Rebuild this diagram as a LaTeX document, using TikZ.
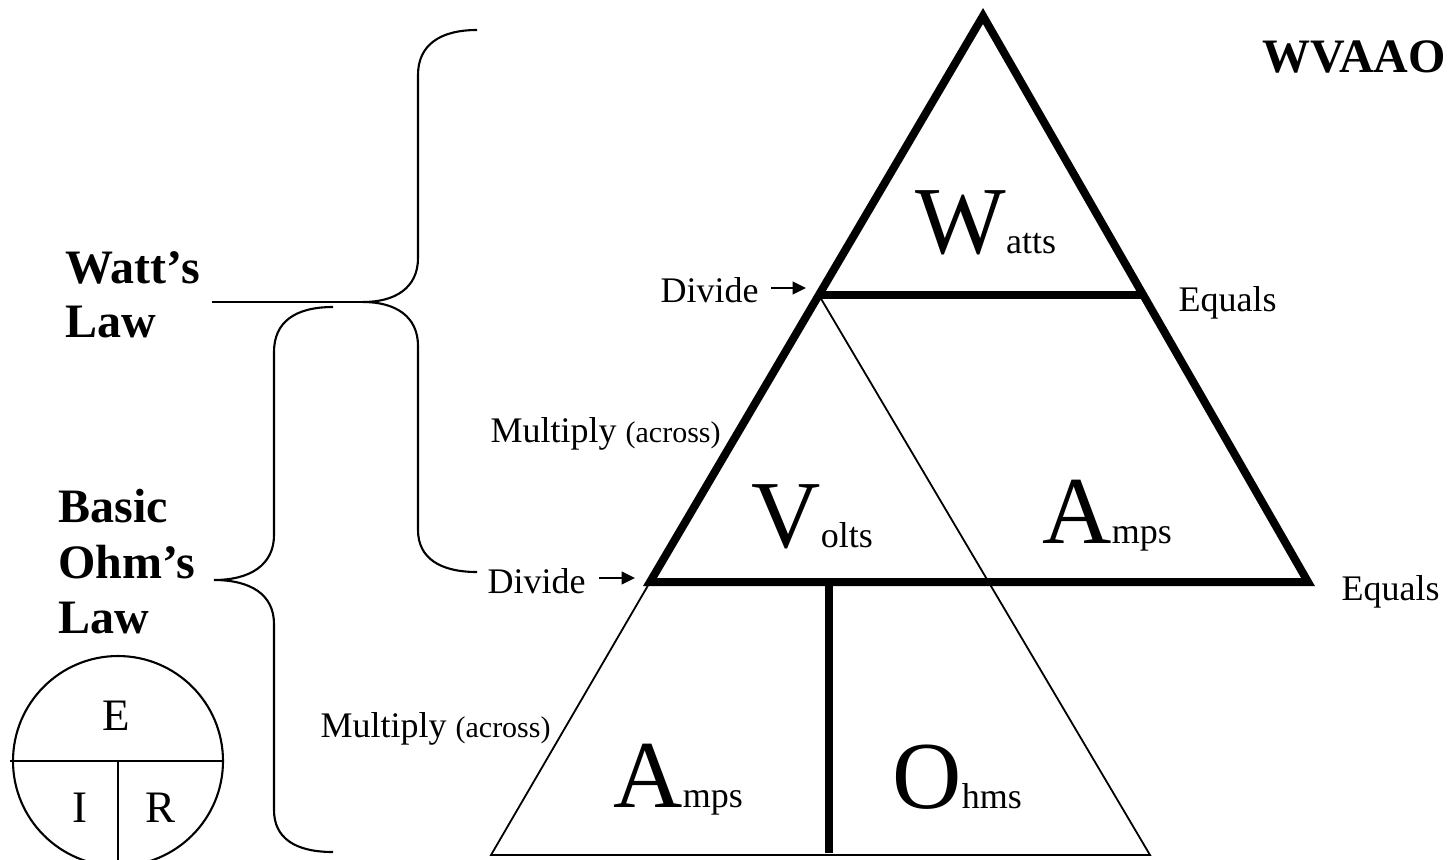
\documentclass[tikz,border=0pt]{standalone}
\usepackage{fontspec}
\setmainfont{Liberation Serif}
\usetikzlibrary{arrows.meta,calc}
\newcommand\BigLtr[2]{{\fontsize{32}{36}\selectfont #1}{\fontsize{12}{14}\selectfont #2}}
\tikzset{
  thick line/.style={line width=2.67pt, line join=miter, miter limit=20},
  thin line/.style={line width=0.6pt},
  brace line/.style={line width=0.7pt},
  lbl/.style={anchor=base west, inner sep=0pt, font=\fontsize{12}{14}\selectfont},
  title/.style={anchor=base west, inner sep=0pt, font=\fontsize{16}{18}\selectfont\bfseries},
  bigtxt/.style={anchor=base west, inner sep=0pt},
  arr/.style={line width=0.9pt, -{Triangle[length=4.5pt,width=4.2pt]}},
  eir/.style={anchor=base, inner sep=0pt, font=\fontsize{15}{17}\selectfont}
}
\begin{document}
\begin{tikzpicture}[x=0.33333pt, y=-0.33333pt]
\useasboundingbox (0,0) rectangle (1452,859);
% main thick triangle
\coordinate (T) at (983,16);
\coordinate (BL) at (650,582);
\coordinate (BR) at (1308,582);
\coordinate (M1) at ($(T)!0.493!(BL)$);
\coordinate (M2) at ($(T)!0.493!(BR)$);
\coordinate (L0) at (491,855);
\coordinate (R0) at (1150,855);
\coordinate (V1) at (829,582);
\coordinate (V2) at (829,853);
% thin triangle
\draw[thin line] (M1) -- (R0) -- (L0) -- (BL);
\draw[thick line] (T) -- (BL) -- (BR) -- cycle;
\draw[thick line] (M1) -- (M2);
\draw[thick line] (V1) -- (V2);
% big labels
\node[bigtxt] (watts) at (915,253) {\BigLtr{W}{atts}};
\node[bigtxt] (volts) at (751,547) {\BigLtr{V}{olts}};
\node[bigtxt] (amps1) at (1042,543) {\BigLtr{A}{mps}};
\node[bigtxt] (amps2) at (613,807) {\BigLtr{A}{mps}};
\node[bigtxt] (ohms) at (892,808) {\BigLtr{O}{hms}};
% side labels
\node[lbl] (div1) at (660,302) {Divide};
\coordinate (div1tip) at (806,288);
\draw[arr] (div1.east |- div1tip) ++(12,0) coordinate (div1s) -- (div1tip);
\node[lbl] (div2) at (487,593) {Divide};
\coordinate (div2tip) at (635,578);
\draw[arr] (div2.east |- div2tip) ++(13,0) coordinate (div2s) -- (div2tip);
\node[lbl] (eq1) at (1178,311) {Equals};
\node[lbl] (eq2) at (1341,600) {Equals};
\node[lbl] (mul1) at (490,442) {Multiply {\fontsize{10}{12}\selectfont (across)}};
\node[lbl] (mul2) at (320,737) {Multiply {\fontsize{10}{12}\selectfont (across)}};
\node[title] (wvaao) at (1262,72) {WVAAO};
% left titles
\node[title] (wl1) at (65,283) {Watt’s};
\node[title] (wl2) at (65,337) {Law};
\node[title] (ol1) at (58,522) {Basic};
\node[title] (ol2) at (58,578) {Ohm’s};
\node[title] (ol3) at (58,633) {Law};
% upper brace
\coordinate (wline) at (212,302);
\coordinate (wtip) at (363,302);
\draw[brace line] (wline) -- (wtip);
\draw[brace line] (477,30) .. controls (440,30) and (418,45) .. (418,75) -- (418,258)
  .. controls (418,288) and (395,302) .. (wtip)
  .. controls (395,302) and (418,316) .. (418,346) -- (418,530)
  .. controls (418,558) and (440,572) .. (477,572);
% lower brace
\coordinate (otip) at (214,580);
\draw[brace line] (333,307) .. controls (295,307) and (274,322) .. (274,352) -- (274,535)
  .. controls (274,565) and (250,580) .. (otip)
  .. controls (250,580) and (274,594) .. (274,624) -- (274,810)
  .. controls (274,838) and (295,852) .. (333,852);
% EIR circle
\node[draw, circle, brace line, minimum size=70pt, inner sep=0pt] (circ) at (118,761) {};
\draw[brace line] (circ.west) ++(-2,0) -- (circ.east);
\draw[brace line] (circ.center) -- (circ.south);
\node[eir] (E) at (116,730) {E};
\node[eir] (I) at (80,822) {I};
\node[eir] (R) at (161,822) {R};
\end{tikzpicture}
\end{document}
